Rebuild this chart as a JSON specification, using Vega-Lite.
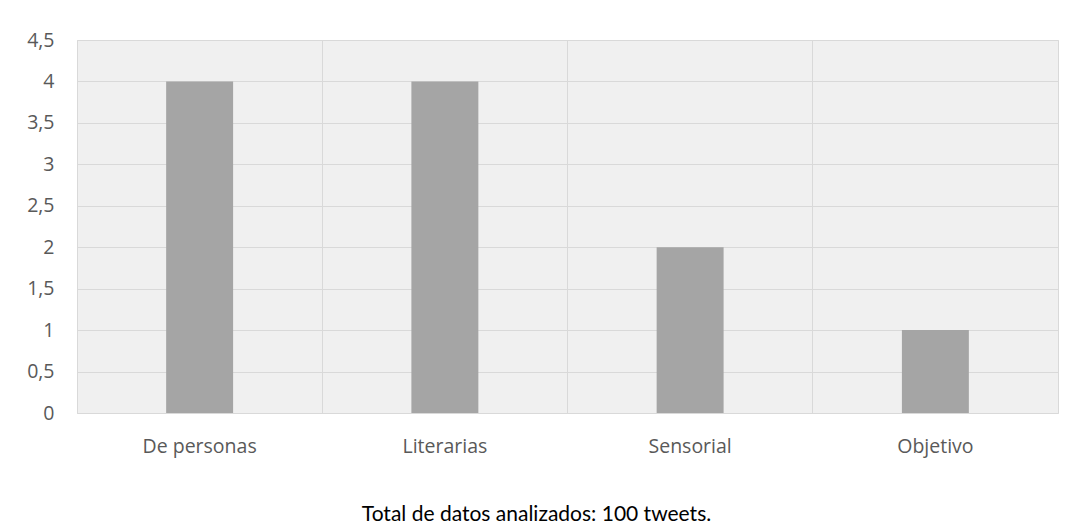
{
  "$schema": "https://vega.github.io/schema/vega-lite/v6.json",
  "width": 981,
  "height": 373,
  "autosize": "none",
  "padding": {"left": 77, "top": 40, "right": 15, "bottom": 113},
  "background": "white",
  "data": {
    "values": [
      {"categoria": "De personas", "valor": 4},
      {"categoria": "Literarias", "valor": 4},
      {"categoria": "Sensorial", "valor": 2},
      {"categoria": "Objetivo", "valor": 1}
    ]
  },
  "title": {
    "text": "Total de datos analizados: 100 tweets.",
    "orient": "bottom",
    "anchor": "middle",
    "dx": -31,
    "offset": 48,
    "font": "Lato",
    "fontSize": 21,
    "fontWeight": "normal",
    "color": "#000000"
  },
  "mark": {"type": "bar", "color": "#a5a5a5", "width": {"band": 0.273}},
  "encoding": {
    "x": {
      "field": "categoria",
      "type": "nominal",
      "sort": null,
      "scale": {"paddingInner": 0, "paddingOuter": 0},
      "axis": {
        "title": null,
        "domain": false,
        "ticks": false,
        "labelAngle": 0,
        "labelPadding": 24,
        "labelFont": "Open Sans",
        "labelFontSize": 19.5,
        "labelColor": "#595959",
        "grid": true,
        "bandPosition": 0,
        "gridColor": "#d9d9d9",
        "gridWidth": 1
      }
    },
    "y": {
      "field": "valor",
      "type": "quantitative",
      "scale": {"domain": [0, 4.5], "nice": false},
      "axis": {
        "title": null,
        "domain": false,
        "ticks": false,
        "values": [0, 0.5, 1, 1.5, 2, 2.5, 3, 3.5, 4, 4.5],
        "format": ".1~f",
        "labelExpr": "replace(datum.label, '.', ',')",
        "labelPadding": 23,
        "labelFont": "Open Sans",
        "labelFontSize": 19.5,
        "labelColor": "#595959",
        "gridColor": "#d9d9d9",
        "gridWidth": 1
      }
    }
  },
  "config": {
    "view": {"stroke": "#d9d9d9", "strokeWidth": 1, "fill": "#f0f0f0"}
  }
}
